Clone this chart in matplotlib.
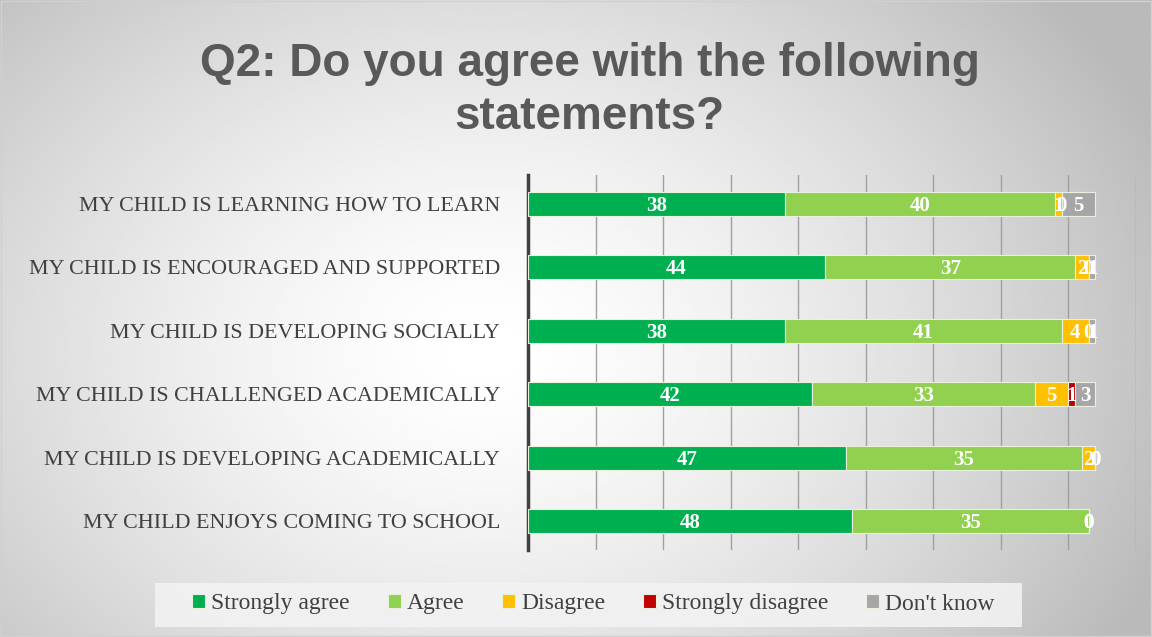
import matplotlib.pyplot as plt
import numpy as np
from matplotlib.patches import Rectangle

categories = ['MY CHILD IS LEARNING HOW TO LEARN',
              'MY CHILD IS ENCOURAGED AND SUPPORTED',
              'MY CHILD IS DEVELOPING SOCIALLY',
              'MY CHILD IS CHALLENGED ACADEMICALLY',
              'MY CHILD IS DEVELOPING ACADEMICALLY',
              'MY CHILD ENJOYS COMING TO SCHOOL']
strongly_agree = [38, 44, 38, 42, 47, 48]
agree = [40, 37, 41, 33, 35, 35]
disagree = [1, 2, 4, 5, 2, 0]
strongly_disagree = [0, 0, 0, 1, 0, 0]
dont_know = [5, 1, 1, 3, 0, 0]

series = [('Strongly agree', strongly_agree, '#00b050'),
          ('Agree', agree, '#92d050'),
          ('Disagree', disagree, '#ffc000'),
          ('Strongly disagree', strongly_disagree, '#c00000'),
          ("Don't know", dont_know, '#a6a6a6')]

fig = plt.figure(figsize=(11.52, 6.37), dpi=100)

# background gradient
bg = fig.add_axes([0, 0, 1, 1], zorder=-10)
xx, yy = np.meshgrid(np.linspace(0, 1, 400), np.linspace(0, 1, 220))
r = np.sqrt(((xx - 0.42) * 1.1) ** 2 + ((yy - 0.45) * 0.8) ** 2)
shade = 1 - 0.27 * np.clip(r / 0.7, 0, 1) ** 1.5
bg.imshow(shade, cmap='gray', vmin=0, vmax=1, extent=[0, 1, 0, 1], aspect='auto', origin='lower')
bg.set_axis_off()
bg.add_patch(Rectangle((0.001, 0.001), 0.998, 0.998, fill=False, ec='#d0d0d0', lw=1))
bg.add_patch(Rectangle((155 / 1152, 1 - 627 / 637), 867 / 1152, 44 / 637, fc='#f2f2f2', ec='none', alpha=0.9))

ax = fig.add_axes([528 / 1152, 1 - 550 / 637, 608 / 1152, 375 / 637])
ax.patch.set_alpha(0)
y = np.arange(len(categories))[::-1]
left = np.zeros(len(categories))
for name, vals, col in series:
    vals = np.array(vals, dtype=float)
    ax.barh(y, vals, left=left, height=0.38, color=col, edgecolor='#e8f0e0', linewidth=0.8,
            label=name, zorder=3)
    for yi, l, v in zip(y, left, vals):
        ax.text(l + v / 2, yi - 0.03, '%d' % v, ha='center', va='center', color='white',
                fontsize=15, fontweight='bold', family='Liberation Serif', zorder=4)
    left += vals

ax.set_xlim(0, 90)
ax.set_ylim(-0.45, 5.45)
ax.set_xticks(np.arange(0, 91, 10))
ax.set_xticklabels([])
ax.tick_params(axis='x', length=0)
ax.grid(axis='x', color='#a0a0a0', lw=1, zorder=0)
ax.set_yticks(y)
ax.set_yticklabels(categories, family='Liberation Serif', fontsize=15.8, color='#404040')
ax.tick_params(axis='y', length=0, pad=20)
for s in ['top', 'right', 'bottom']:
    ax.spines[s].set_visible(False)
ax.spines['left'].set_color('#404040')
ax.spines['left'].set_linewidth(2.5)

fig.text(0.512, 0.858, 'Q2: Do you agree with the following\nstatements?', ha='center', va='center',
         fontsize=33, fontweight='bold', color='#595959', family='Liberation Sans', linespacing=1.25)

leg = fig.legend(loc='center', bbox_to_anchor=(0.515, 1 - 604 / 637), ncol=5, frameon=False,
                 handlelength=0.55, handleheight=0.55, handletextpad=0.25, columnspacing=1.6,
                 prop={'family': 'Liberation Serif', 'size': 17})
for t in leg.get_texts():
    t.set_color('#404040')

fig.savefig('out.png', dpi=100)
